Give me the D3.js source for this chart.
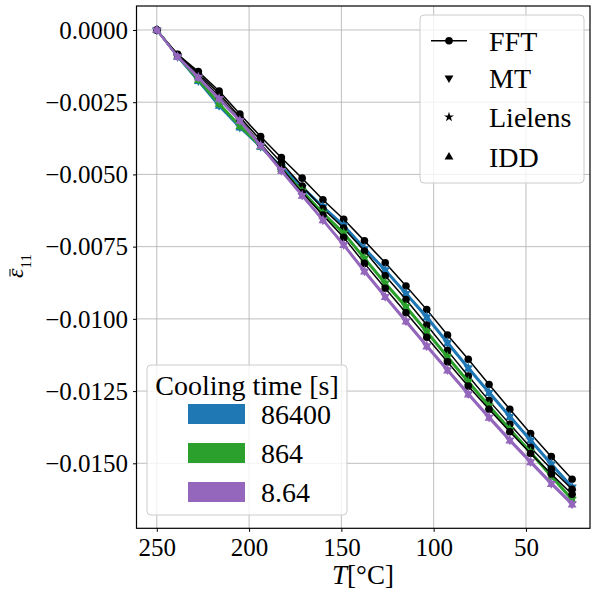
<!DOCTYPE html>
<html><head><meta charset="utf-8">
<script src="https://cdn.jsdelivr.net/npm/d3@7"></script>
<style>body{margin:0;background:#fff}svg{display:block}text{font-family:"Liberation Serif","Times New Roman",serif;fill:#000}</style>
</head><body>
<svg id="c" width="591" height="593"></svg>
<script>
// ---- data ----
const temps = [250, 238.75, 227.5, 216.25, 205, 193.75, 182.5, 171.25, 160, 148.75, 137.5, 126.25, 115, 103.75, 92.5, 81.25, 70, 58.75, 47.5, 36.25, 25];
const coolingTimes = ["86400", "864", "8.64"];
const coolColors = ["#1f77b4", "#2ca02c", "#9467bd"];
const models = ["MT", "Lielens", "IDD"];
const xTicks = [250, 200, 150, 100, 50];
const yTicks = [0, -0.0025, -0.005, -0.0075, -0.01, -0.0125, -0.015];

const fft86400 = [0, -0.00084, -0.00144, -0.00211, -0.00291, -0.00369, -0.00442, -0.00513, -0.00588, -0.00655, -0.00730, -0.00806, -0.00886, -0.00968, -0.01056, -0.01140, -0.01227, -0.01313, -0.01397, -0.01477, -0.01555];
const fft864   = [0, -0.00085, -0.00150, -0.00220, -0.00302, -0.00382, -0.00460, -0.00540, -0.00618, -0.00686, -0.00765, -0.00851, -0.00933, -0.01021, -0.01110, -0.01198, -0.01283, -0.01365, -0.01445, -0.01520, -0.01590];
const fft864s  = [0, -0.00086, -0.00155, -0.00230, -0.00310, -0.00394, -0.00478, -0.00563, -0.00641, -0.00718, -0.00808, -0.00894, -0.00979, -0.01064, -0.01149, -0.01233, -0.01313, -0.01391, -0.01466, -0.01537, -0.01607];

const mt86400      = [0, -0.00092, -0.00176, -0.00262, -0.00337, -0.00404, -0.00474, -0.00545, -0.00612, -0.00677, -0.00757, -0.00831, -0.00912, -0.00994, -0.01083, -0.01170, -0.01255, -0.01338, -0.01420, -0.01503, -0.01583];
const lielens86400 = [0, -0.00091, -0.00174, -0.00259, -0.00334, -0.00402, -0.00472, -0.00543, -0.00610, -0.00675, -0.00754, -0.00829, -0.00910, -0.00991, -0.01080, -0.01167, -0.01252, -0.01335, -0.01417, -0.01500, -0.01580];
const idd86400     = [0, -0.00093, -0.00178, -0.00264, -0.00339, -0.00406, -0.00476, -0.00547, -0.00614, -0.00679, -0.00759, -0.00834, -0.00915, -0.00997, -0.01086, -0.01173, -0.01258, -0.01341, -0.01423, -0.01506, -0.01586];

const mt864      = [0, -0.00090, -0.00172, -0.00255, -0.00332, -0.00402, -0.00480, -0.00558, -0.00634, -0.00703, -0.00790, -0.00877, -0.00958, -0.01045, -0.01132, -0.01218, -0.01302, -0.01383, -0.01462, -0.01545, -0.01625];
const lielens864 = [0, -0.00089, -0.00170, -0.00253, -0.00330, -0.00400, -0.00478, -0.00556, -0.00632, -0.00701, -0.00788, -0.00874, -0.00955, -0.01042, -0.01129, -0.01215, -0.01299, -0.01380, -0.01459, -0.01542, -0.01622];
const idd864     = [0, -0.00091, -0.00174, -0.00257, -0.00334, -0.00404, -0.00482, -0.00560, -0.00636, -0.00706, -0.00793, -0.00880, -0.00961, -0.01048, -0.01135, -0.01221, -0.01305, -0.01386, -0.01465, -0.01548, -0.01628];

const mt864s      = [0, -0.00092, -0.00164, -0.00238, -0.00314, -0.00400, -0.00487, -0.00573, -0.00658, -0.00744, -0.00835, -0.00923, -0.01008, -0.01094, -0.01177, -0.01260, -0.01341, -0.01420, -0.01495, -0.01570, -0.01641];
const lielens864s = [0, -0.00091, -0.00162, -0.00236, -0.00312, -0.00398, -0.00485, -0.00571, -0.00656, -0.00741, -0.00832, -0.00920, -0.01005, -0.01091, -0.01174, -0.01257, -0.01338, -0.01417, -0.01492, -0.01567, -0.01638];
const idd864s     = [0, -0.00093, -0.00166, -0.00240, -0.00316, -0.00402, -0.00489, -0.00575, -0.00660, -0.00746, -0.00838, -0.00926, -0.01011, -0.01097, -0.01180, -0.01263, -0.01344, -0.01423, -0.01498, -0.01573, -0.01644];

const fftSeries = [fft86400, fft864, fft864s];
const modelSeries = [[mt86400, lielens86400, idd86400], [mt864, lielens864, idd864], [mt864s, lielens864s, idd864s]];

// ---- chart ----
const svg = d3.select("#c");
const L = 136.5, R = 590, T0 = 6, B = 528.3;
const x = d3.scaleLinear().domain([261.0, 15.3]).range([L, R]);
const y = d3.scaleLinear().domain([0.00083, -0.01725]).range([T0, B]);

// grid
const g = svg.append("g");
g.selectAll(".gx").data(xTicks).join("line")
  .attr("x1", d => x(d)).attr("x2", d => x(d)).attr("y1", T0).attr("y2", B)
  .attr("stroke", "#b0b0b0").attr("stroke-width", 1).attr("opacity", 0.8);
g.selectAll(".gy").data(yTicks).join("line")
  .attr("y1", d => y(d)).attr("y2", d => y(d)).attr("x1", L).attr("x2", R)
  .attr("stroke", "#b0b0b0").attr("stroke-width", 1).attr("opacity", 0.8);

// axes
const fmtY = d => (d < 0 ? "\u2212" : "") + Math.abs(d).toFixed(4);
const xAxis = d3.axisBottom(x).tickValues(xTicks).tickSize(3.5).tickPadding(6).tickFormat(d3.format("d"));
const yAxis = d3.axisLeft(y).tickValues(yTicks).tickSize(3.5).tickPadding(5).tickFormat(fmtY);
const gx = svg.append("g").attr("transform", `translate(0,${B})`).call(xAxis);
const gy = svg.append("g").attr("transform", `translate(${L},0)`).call(yAxis);
[gx, gy].forEach(a => {
  a.attr("font-family", null);
  a.select(".domain").remove();
  a.selectAll("text").style("font-size", "25px").style("font-family", '"Liberation Serif", "Times New Roman", serif');
  a.selectAll("line").attr("stroke", "#000").attr("stroke-width", 1);
});
gx.selectAll("text").attr("dy", "0.71em");
gy.selectAll("text").attr("dy", "0.33em");

// data
const line = d3.line().x((d, i) => x(temps[i])).y(d => y(d));
const symTri = d3.symbol().type(d3.symbolTriangle).size(34);
const symStar = d3.symbol().type(d3.symbolStar).size(30);
const plot = svg.append("g");
function drawMarkers(sel, data, kind, color) {
  sel.selectAll(null).data(data).join("path")
    .attr("d", kind === "star" ? symStar() : symTri())
    .attr("transform", (d, i) => `translate(${x(temps[i])},${y(d)})` + (kind === "down" ? " rotate(180)" : ""))
    .attr("fill", color);
}
const kinds = ["down", "star", "up"];
coolingTimes.forEach((ct, ci) => {
  const f = fftSeries[ci];
  plot.append("path").datum(f).attr("d", line).attr("fill", "none").attr("stroke", "#000").attr("stroke-width", 1.5);
  plot.append("g").selectAll("circle").data(f).join("circle")
    .attr("cx", (d, i) => x(temps[i])).attr("cy", d => y(d)).attr("r", 3.8).attr("fill", "#000");
  modelSeries[ci].forEach((s, mi) => {
    const gg = plot.append("g");
    gg.append("path").datum(s).attr("d", line).attr("fill", "none").attr("stroke", coolColors[ci]).attr("stroke-width", 2);
    drawMarkers(gg, s, kinds[mi], coolColors[ci]);
  });
});

// frame
svg.append("rect").attr("x", L).attr("y", T0).attr("width", R - L).attr("height", B - T0)
  .attr("fill", "none").attr("stroke", "#000").attr("stroke-width", 1.2);

// axis labels
svg.append("text").attr("x", 363).attr("y", 584).attr("text-anchor", "middle").style("font-size", "27px")
  .html('<tspan font-style="italic">T</tspan>[°C]');
const yl = svg.append("g").attr("transform", "translate(23,278) rotate(-90)");
yl.append("text").attr("x", 0).attr("y", 0).style("font-size", "24px")
  .html('<tspan font-style="italic">ε</tspan><tspan dy="8" style="font-size:15px">11</tspan>');
yl.append("line").attr("x1", 1.5).attr("x2", 9).attr("y1", -13).attr("y2", -13).attr("stroke", "#000").attr("stroke-width", 1);

// legend 1 (models)
const lg1 = svg.append("g");
lg1.append("rect").attr("x", 420).attr("y", 15).attr("width", 164).attr("height", 168).attr("rx", 4)
  .attr("fill", "#fff").attr("fill-opacity", 0.8).attr("stroke", "#cccccc");
const legNames = ["FFT"].concat(models);
const legY = [40.7, 78, 117, 157];
legNames.forEach((n, i) => {
  const yy = legY[i];
  if (i === 0) {
    lg1.append("line").attr("x1", 431).attr("x2", 467).attr("y1", yy).attr("y2", yy).attr("stroke", "#000").attr("stroke-width", 1.5);
    lg1.append("circle").attr("cx", 449).attr("cy", yy).attr("r", 3.8).attr("fill", "#000");
  } else {
    const k = kinds[i - 1];
    lg1.append("path").attr("d", k === "star" ? symStar() : symTri())
      .attr("transform", `translate(449,${yy})` + (k === "down" ? " rotate(180)" : "")).attr("fill", "#000");
  }
  lg1.append("text").attr("x", 489).attr("y", yy).attr("dy", "0.35em").style("font-size", "28px").text(n);
});

// legend 2 (cooling times)
const lg2 = svg.append("g");
lg2.append("rect").attr("x", 147).attr("y", 365).attr("width", 200).attr("height", 150).attr("rx", 4)
  .attr("fill", "#fff").attr("fill-opacity", 0.8).attr("stroke", "#cccccc");
lg2.append("text").attr("x", 247).attr("y", 385).attr("dy", "0.35em").attr("text-anchor", "middle").style("font-size", "28px").text("Cooling time [s]");
const patchY = [414, 453, 492];
coolingTimes.forEach((ct, i) => {
  lg2.append("rect").attr("x", 188).attr("y", patchY[i] - 10).attr("width", 57).attr("height", 20).attr("fill", coolColors[i]);
  lg2.append("text").attr("x", 261).attr("y", patchY[i]).attr("dy", "0.35em").style("font-size", "28px").text(ct);
});
</script>
</body></html>
